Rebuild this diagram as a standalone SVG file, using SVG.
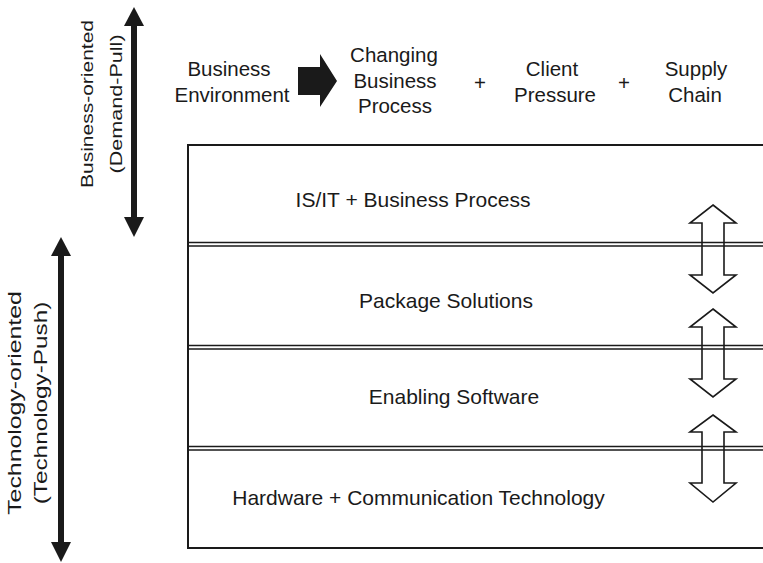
<svg xmlns="http://www.w3.org/2000/svg" width="763" height="563" viewBox="0 0 763 563">
<style>
text{font-family:"Liberation Sans",Arial,sans-serif;fill:#1a1a1a;text-anchor:middle}
.top{font-size:20.5px}
.layer{font-size:21px}
.rot{font-size:17px}
.rot2{font-size:18px}
.ln{stroke:#1a1a1a;stroke-width:2;fill:none}
.dl{stroke:#1a1a1a;stroke-width:1.6;fill:none}
.solid{fill:#1a1a1a;stroke:none}
.hollow{fill:none;stroke:#1a1a1a;stroke-width:1.6;stroke-linejoin:miter}
</style>
<rect width="763" height="563" fill="#ffffff"/>

<g id="axis-business">
  <rect class="solid" x="131" y="24" width="6" height="195"/>
  <polygon class="solid" points="134,7 144,26 124,26"/>
  <polygon class="solid" points="134,237 144,217 124,217"/>
  <text class="rot" transform="translate(92.5,104) rotate(-90) scale(1.235,1)">Business-oriented</text>
  <text class="rot" transform="translate(122,104) rotate(-90) scale(1.27,1)">(Demand-Pull)</text>
</g>

<g id="axis-technology">
  <rect class="solid" x="58" y="254" width="6" height="290"/>
  <polygon class="solid" points="61,237 71,256 51,256"/>
  <polygon class="solid" points="61,562 71,542 51,542"/>
  <text class="rot2" transform="translate(21,403) rotate(-90) scale(1.38,1)">Technology-oriented</text>
  <text class="rot2" transform="translate(47,403) rotate(-90) scale(1.35,1)">(Technology-Push)</text>
</g>

<g id="business-environment">
  <text class="top" x="229" y="76">Business</text>
  <text class="top" x="232" y="102">Environment</text>
</g>

<g id="connectors">
  <polygon class="solid" points="298,67 320,67 320,54 337,81 320,107 320,95 298,95"/>
</g>

<g id="changing-business-process">
  <text class="top" x="394" y="62">Changing</text>
  <text class="top" x="395" y="88">Business</text>
  <text class="top" x="395" y="113">Process</text>
</g>
<g id="plus1"><text class="top" x="480" y="90">+</text></g>
<g id="client-pressure">
  <text class="top" x="552" y="76">Client</text>
  <text class="top" x="555" y="102">Pressure</text>
</g>
<g id="plus2"><text class="top" x="624" y="90">+</text></g>
<g id="supply-chain">
  <text class="top" x="696" y="76">Supply</text>
  <text class="top" x="695" y="102">Chain</text>
</g>

<g id="layers-frame">
  <path class="ln" d="M763,145 H188 V548 H763"/>
  <path class="dl" d="M188,242.5 H763 M188,246 H763"/>
  <path class="dl" d="M188,345.5 H763 M188,349 H763"/>
  <path class="dl" d="M188,446.5 H763 M188,450 H763"/>
</g>

<g id="layer-isit"><text class="layer" x="413" y="207">IS/IT + Business Process</text></g>
<g id="layer-package"><text class="layer" x="446" y="308">Package Solutions</text></g>
<g id="layer-enabling"><text class="layer" x="454" y="404">Enabling Software</text></g>
<g id="layer-hardware"><text class="layer" x="418.5" y="505">Hardware + Communication Technology</text></g>

<g id="interface-arrows">
  <path class="hollow" d="M713,205 L736,223 L724,223 L724,275 L736,275 L713,293 L690,275 L702,275 L702,223 L690,223 Z"/>
  <path class="hollow" d="M713,309 L736,327 L724,327 L724,379 L736,379 L713,397 L690,379 L702,379 L702,327 L690,327 Z"/>
  <path class="hollow" d="M713,415 L736,432 L724,432 L724,483 L736,483 L713,502 L690,483 L702,483 L702,432 L690,432 Z"/>
</g>
</svg>
